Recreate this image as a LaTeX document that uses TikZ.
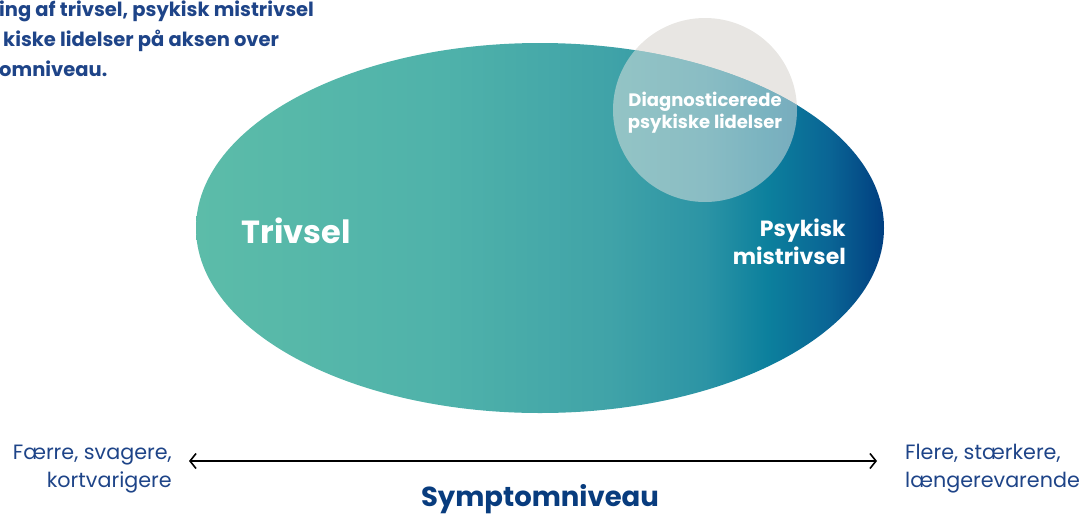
\documentclass[tikz,border=0pt]{standalone}
\usepackage{fontspec}
\setmainfont{Poppins}
\usetikzlibrary{arrows.meta}

\definecolor{navytekst}{HTML}{1E4488}
\definecolor{navymoerk}{HTML}{083C7E}
\definecolor{cirkelgraa}{HTML}{E8E6E3}
\definecolor{tealA}{HTML}{5CBCA9}
\definecolor{tealB}{HTML}{4FB2AA}
\definecolor{tealC}{HTML}{40A3A8}
\definecolor{tealD}{HTML}{2C94A5}
\definecolor{tealE}{HTML}{0C809D}
\definecolor{blaaA}{HTML}{0A6595}
\definecolor{blaaB}{HTML}{013F80}

\pgfdeclarehorizontalshading{trivselshade}{100bp}{color(0bp)=(tealA); color(25bp)=(tealA); color(43bp)=(tealB); color(55bp)=(tealC); color(62bp)=(tealD); color(66.5bp)=(tealE); color(71bp)=(blaaA); color(75bp)=(blaaB); color(100bp)=(blaaB)}

\begin{document}
\begin{tikzpicture}[x=1pt, y=-1pt,
        every node/.style={inner sep=0pt},
        hvidtekst/.style={text=white, font=\bfseries},
        aksetekst/.style={text=navytekst, font=\fontsize{20.7}{28}\selectfont}]
        \useasboundingbox (0,0) rectangle (1085,515);

        % Indledende tekst (beskaaret)
        \node (intro) [anchor=north west, align=left, text=navytekst,
            font=\fontsize{19.5}{30}\selectfont\bfseries] at (-1,1)
            {ing af trivsel, psykisk mistrivsel\\\hspace*{4pt}kiske lidelser på aksen over\\omniveau.};

        % Ellipse og cirkel
        \fill[cirkelgraa] (705,110) circle [radius=92pt];
        \shade[shading=trivselshade] (540,228) ellipse [x radius=344pt, y radius=185pt];
        \begin{scope}
            \clip (540,228) ellipse [x radius=344pt, y radius=185pt];
            \fill[cirkelgraa, opacity=0.5] (705,110) circle [radius=92pt];
        \end{scope}

        % Tekster i figuren
        \node (trivsel) [hvidtekst, font=\fontsize{32}{40}\selectfont\bfseries] at (296,231) {Trivsel};
        \node (mistrivsel) [hvidtekst, anchor=east, align=right,
            font=\fontsize{22}{28}\selectfont\bfseries] at (846,242) {Psykisk\\mistrivsel};
        \node (diagnose) [hvidtekst, align=center,
            font=\fontsize{18}{22}\selectfont\bfseries] at (705,113) {Diagnosticerede\\psykiske lidelser};

        % Aksen
        \node (faerre) [aksetekst, anchor=east, align=right] at (172,469) {Færre, svagere,\\kortvarigere};
        \node (flere) [aksetekst, anchor=west, align=left] at (905,469) {Flere, stærkere,\\længerevarende};
        \coordinate (pilV) at (189,461);
        \coordinate (pilH) at (877,461);
        \draw[line width=1.6pt, {Straight Barb[length=6pt, width=15pt]}-{Straight Barb[length=6pt, width=15pt]}] (pilV) -- (pilH);
        \node (symptom) [text=navymoerk, font=\fontsize{27.5}{30}\selectfont\bfseries] at (540,499) {Symptomniveau};
    \end{tikzpicture}
\end{document}
